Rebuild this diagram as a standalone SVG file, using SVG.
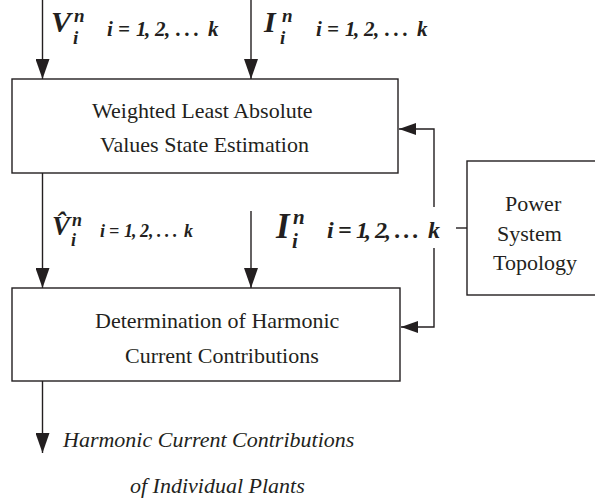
<svg xmlns="http://www.w3.org/2000/svg" width="595" height="501" viewBox="0 0 595 501">
<style>
.box{fill:#fff;stroke:#231f20;stroke-width:1.4}
.ln{fill:none;stroke:#231f20;stroke-width:1.4}
.t{font-family:"Liberation Serif",serif;font-size:22px;fill:#231f20}
.it{font-style:italic}
.m{font-family:"Liberation Serif",serif;font-weight:bold;font-style:italic;fill:#231f20}
</style>
<defs>
<marker id="ah" markerUnits="userSpaceOnUse" markerWidth="20" markerHeight="14" refX="20" refY="7" orient="auto">
<path d="M0,0 L20,7 L0,14 z" fill="#231f20"/>
</marker>
<marker id="ahs" markerUnits="userSpaceOnUse" markerWidth="17" markerHeight="12" refX="17" refY="6" orient="auto">
<path d="M0,0 L17,6 L0,12 z" fill="#231f20"/>
</marker>
</defs>
<rect width="595" height="501" fill="#fff"/>
<g id="connectors">
<line class="ln" x1="42.5" y1="0" x2="42.5" y2="79" marker-end="url(#ah)"/>
<line class="ln" x1="251" y1="0" x2="251" y2="79" marker-end="url(#ah)"/>
<line class="ln" x1="42.5" y1="173" x2="42.5" y2="288" marker-end="url(#ah)"/>
<line class="ln" x1="251" y1="211" x2="251" y2="288" marker-end="url(#ah)"/>
<line class="ln" x1="42.5" y1="381" x2="42.5" y2="453" marker-end="url(#ah)"/>
<polyline class="ln" points="434,207 434,129 399,129" marker-end="url(#ahs)"/>
<polyline class="ln" points="434,248 434,327 401,327" marker-end="url(#ahs)"/>
<line class="ln" x1="456" y1="228" x2="467" y2="228"/>
</g>
<g id="wlav">
<rect class="box" x="12" y="79" width="386" height="94"/>
<text class="t" x="92" y="118">Weighted Least Absolute</text>
<text class="t" x="100" y="152">Values State Estimation</text>
</g>
<g id="harmonic">
<rect class="box" x="12" y="288" width="388" height="93"/>
<text class="t" x="95" y="328">Determination of Harmonic</text>
<text class="t" x="125" y="363">Current Contributions</text>
</g>
<g id="topology">
<rect class="box" x="467" y="161" width="140" height="134"/>
<text class="t" x="505" y="211">Power</text>
<text class="t" x="497" y="241">System</text>
<text class="t" x="493" y="270">Topology</text>
</g>
<g id="labels">
<text class="m" x="51" y="32" font-size="30">V</text>
<text class="m" x="74" y="22" font-size="19">n</text>
<text class="m" x="73" y="44" font-size="19">i</text>
<text class="m" font-size="21" y="36" x="107 118 136 145 155 165 176 185 194 208">i=1,2,...k</text>
<text class="m" x="264" y="32" font-size="30">I</text>
<text class="m" x="282" y="22" font-size="19">n</text>
<text class="m" x="280" y="44" font-size="19">i</text>
<text class="m" font-size="21" y="36" x="316 327 345 354 364 374 385 394 403 417">i=1,2,...k</text>
<text class="m" x="52" y="235" font-size="27">V̂</text>
<text class="m" x="72" y="226" font-size="18">n</text>
<text class="m" x="71" y="246" font-size="18">i</text>
<text class="m" font-size="18" y="237" x="100 109 124 132 140 149 157 165 173 184">i=1,2,...k</text>
<text class="m" x="276" y="238" font-size="35">I</text>
<text class="m" x="293" y="224" font-size="21">n</text>
<text class="m" x="292" y="248" font-size="21">i</text>
<text class="m" font-size="24" y="238" x="327 338 356 365 375 385 395 404 413 428">i=1,2,...k</text>
<text class="t it" x="63" y="447">Harmonic Current Contributions</text>
<text class="t it" x="130" y="493">of Individual Plants</text>
</g>
</svg>
